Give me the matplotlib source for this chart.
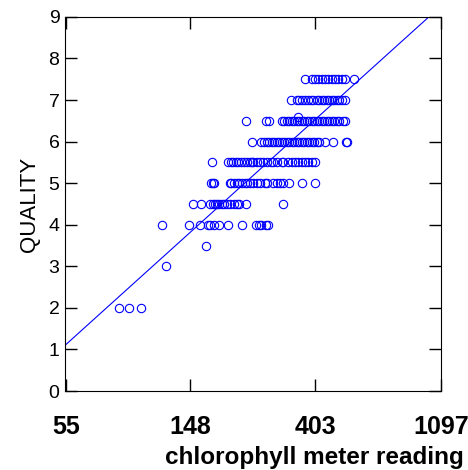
import numpy as np
import matplotlib
matplotlib.use("Agg")
import matplotlib.pyplot as plt

plt.rcParams['font.family'] = ['Liberation Sans', 'DejaVu Sans']

# chlorophyll meter readings grouped by quality score
reading_by_quality = {
    2.0: [84, 91, 100],
    3.0: [122],
    3.5: [168],
    4.0: [118, 147, 160, 171, 174, 179, 187, 200, 225, 250, 257, 262, 272, 275],
    4.5: [152, 162, 174, 178, 181, 183, 186, 191, 194, 199, 204, 210, 215, 219,
          232, 312],
    5.0: [175, 178, 179, 203, 206, 210, 215, 219, 224, 230, 234, 239, 245, 252,
          258, 269, 273, 288, 296, 304, 310, 327, 361, 401],
    5.5: [176, 201, 205, 209, 214, 218, 222, 228, 233, 239, 242, 245, 252, 259,
          266, 273, 282, 288, 296, 308, 312, 324, 333, 342, 351, 361, 371, 380,
          391, 401],
    6.0: [243, 262, 267, 273, 279, 284, 289, 296, 302, 308, 314, 320, 327, 333,
          339, 347, 354, 361, 368, 376, 384, 391, 398, 407, 415, 435, 465, 513,
          517],
    6.5: [231, 272, 278, 308, 314, 320, 327, 333, 339, 347, 354, 361, 368, 376,
          384, 391, 398, 407, 415, 424, 431, 441, 450, 459, 467, 477, 487, 501,
          510],
    6.6: [351],
    7.0: [331, 347, 354, 362, 371, 379, 388, 396, 407, 415, 424, 431, 441, 450,
          459, 467, 477, 487, 497, 510],
    7.5: [372, 391, 401, 412, 424, 435, 446, 459, 471, 483, 497, 510, 550],
}

# fitted line: quality = a + b * ln(reading)
fit_a = -9.78
fit_b = 2.72

xtick_vals = [55, 148, 403, 1097]
xtick_labels = ['55', '148', '403', '1097']

x = []
y = []
for q, vals in reading_by_quality.items():
    x += vals
    y += [q] * len(vals)
lx = np.log(x)

fig = plt.figure(figsize=(4.68, 4.70), dpi=100)
ax = fig.add_axes([0.139, 0.168, 0.803, 0.796])

ax.plot(lx, y, 'o', mfc='none', mec='blue', ms=6, mew=0.8)
xl = np.linspace(4, 7, 50)
ax.plot(xl, fit_a + fit_b * xl, color='blue', lw=0.8)

ax.set_xlim(4, 7)
ax.set_ylim(0, 9)
ax.set_xticks(np.log(xtick_vals))
ax.set_xticklabels(xtick_labels, fontsize=18, fontweight='bold')
ax.set_yticks(range(10))
ax.tick_params(axis='y', labelsize=14, direction='in', length=8.5, width=1,
               right=True, pad=4)
ax.tick_params(axis='x', direction='in', length=8.5, width=1, top=True, pad=17)

ax.set_ylabel('QUALITY', fontsize=16, labelpad=6)
ax.set_xlabel('chlorophyll meter reading', fontsize=17.5, fontweight='bold',
              ha='right')
ax.xaxis.set_label_coords(1.061, -0.147)

fig.savefig('out.png', dpi=100)
